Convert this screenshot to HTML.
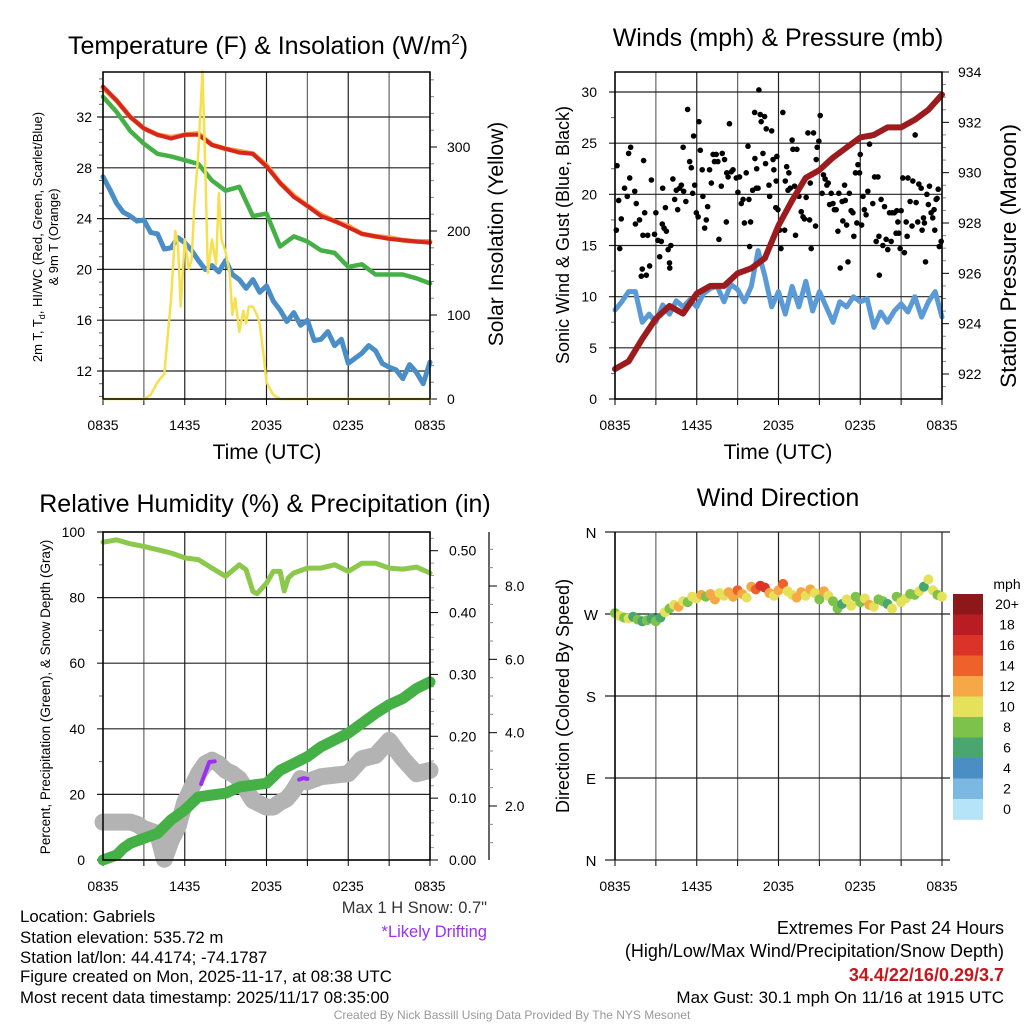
<!DOCTYPE html>
<html><head><meta charset="utf-8"><style>
html,body{margin:0;padding:0;background:#fff;}
svg{display:block;font-family:"Liberation Sans",sans-serif;}
</style></head><body>
<svg id="fig" width="1024" height="1024" viewBox="0 0 1024 1024"></svg>
<script>
// ---------- DATA ----------
const hourTicks = ["0835","1435","2035","0235","0835"];
// Panel 1 (hourly, t = 0..24)
const tempRed   = [34.4,33.3,32.0,31.1,30.6,30.3,30.6,30.6,29.8,29.5,29.2,29.1,28.1,26.8,25.7,25.0,24.2,23.8,23.3,22.8,22.6,22.4,22.3,22.2,22.1];
const tempOrange= [34.3,33.3,32.0,31.1,30.6,30.4,30.6,30.7,29.8,29.5,29.3,29.1,28.2,26.8,25.8,25.0,24.3,23.8,23.4,22.8,22.6,22.5,22.3,22.2,22.2];
const tempGreen = [33.6,32.4,30.9,29.9,29.1,28.9,28.6,28.3,27.0,26.2,26.5,24.2,24.4,21.8,22.6,22.2,21.5,21.3,20.2,20.4,19.6,19.6,19.6,19.3,18.9];
// half-hourly t = 0..24
const tempBlue  = [27.3,26.3,25.2,24.5,24.2,23.8,23.9,22.9,22.8,21.6,21.7,22.5,22.1,21.5,20.7,20.0,20.3,19.8,20.7,19.6,19.2,18.5,19.2,18.2,18.7,17.5,16.8,15.9,16.6,15.6,16.0,14.4,14.5,15.1,14.0,14.5,12.6,13.0,13.4,14.0,13.6,12.6,12.3,12.1,11.4,12.5,11.9,11.0,12.7];
const solarTimes  = [0,3,3.5,4,4.5,5,5.3,5.5,5.7,6,6.3,6.5,6.7,7,7.3,7.5,7.7,8,8.3,8.5,8.7,9,9.3,9.5,9.7,10,10.3,10.5,10.7,11,11.3,11.5,11.8,12,12.5,13,24];
const solarValues = [0,0,5,20,30,120,200,185,110,190,155,165,230,295,390,280,150,190,160,245,190,175,150,100,120,80,105,90,110,110,100,90,50,20,5,0,0];
// Panel 2
const windBlue = [8.7,9.5,10.5,10.5,7.5,8.3,7.5,9.2,8.3,9.6,9.0,9.7,9.0,10.3,10.8,11.0,9.5,11.2,10.7,9.5,11.0,14.5,12.0,9.0,10.5,8.3,11.0,9.0,11.5,8.6,10.5,9.0,7.5,9.5,9.0,10.0,9.5,9.8,7.0,8.5,7.5,8.6,9.3,8.5,10.0,8.0,9.5,10.5,8.0];
const pressure = [922.2,922.5,923.4,924.2,924.7,924.4,925.2,925.5,925.5,926.0,926.2,926.6,927.9,928.9,929.8,930.1,930.6,931.0,931.4,931.5,931.8,931.8,932.1,932.5,933.1];
const gustTimes = [0.1,0.15,0.35,0.46,0.27,0.7,1.0,1.15,1.08,0.9,1.45,1.56,1.5,1.8,2.0,2.1,1.93,2.18,2.3,2.05,2.4,2.54,2.67,2.9,3.0,3.15,3.28,3.4,3.5,3.47,3.6,3.77,3.7,3.9,4.0,4.1,4.02,4.25,4.38,4.5,4.6,4.74,4.87,5.0,5.04,5.2,5.33,5.48,5.6,5.7,5.77,5.85,5.97,6.1,6.16,6.26,6.4,6.45,6.58,6.7,6.8,6.94,7.07,7.2,7.3,7.43,7.55,7.63,7.8,7.87,8.04,8.17,8.4,8.2,8.3,8.53,8.66,8.9,9.02,9.14,9.27,9.4,9.5,9.63,9.76,9.83,9.88,9.95,10.1,10.25,10.27,10.37,10.4,10.5,10.56,10.66,10.73,10.86,10.98,11.05,11.1,11.3,11.35,11.5,11.6,11.66,11.8,11.83,11.88,11.96,12.08,12.18,12.32,12.45,12.5,12.6,12.7,12.76,12.86,13.0,13.06,13.18,13.25,13.35,13.5,13.67,13.8,13.9,14.03,14.16,14.28,14.33,14.4,14.57,14.72,14.77,14.84,14.96,15.06,15.2,15.3,15.42,15.55,15.65,15.75,15.87,16.0,16.1,16.23,16.36,16.43,16.53,16.67,16.72,16.85,16.9,17.0,17.1,17.2,17.33,17.46,17.53,17.65,17.75,17.83,17.95,18.0,18.1,18.2,18.3,18.43,18.56,18.68,18.75,18.92,19.05,19.17,19.3,19.37,19.4,19.53,19.66,19.78,19.9,20.02,20.15,20.27,20.34,20.5,20.63,20.68,20.76,20.83,20.93,21.0,21.12,21.24,21.37,21.44,21.5,21.66,21.8,21.86,22.03,22.1,22.22,22.3,22.47,22.54,22.64,22.71,22.79,22.89,23.0,23.08,23.2,23.32,23.42,23.47,23.57,23.64,23.72,23.8,23.94];
const gustValues = [16.5,22.8,14.7,17.6,19.4,20.6,24.0,24.6,21.6,19.8,20.3,19.1,17.1,17.5,12.7,23.3,12.0,18.2,12.1,16.0,16.0,13.0,21.4,16.1,18.2,15.5,13.9,15.4,20.6,17.1,16.7,16.4,18.7,14.6,13.3,15.0,12.8,21.5,19.5,20.4,18.5,20.6,20.9,24.6,20.3,19.3,28.3,23.2,22.6,20.1,25.7,20.9,18.2,17.8,27.1,24.3,22.4,19.8,16.7,17.5,18.8,22.4,21.1,23.9,23.2,23.9,23.2,15.6,20.8,24.0,23.4,17.3,26.9,22.1,21.7,22.2,22.4,21.6,20.2,21.7,19.1,19.5,17.2,22.1,24.7,19.5,14.9,17.3,20.4,28.0,23.5,20.6,22.5,20.6,30.2,27.8,27.1,24.0,27.6,23.0,26.4,20.9,19.8,26.2,23.4,22.4,18.7,21.3,23.7,18.5,16.5,14.7,28.0,16.5,21.3,22.7,20.4,22.1,20.6,25.3,24.4,20.8,16.0,24.4,19.8,18.3,17.8,17.6,19.7,26.0,17.5,21.1,14.7,26.0,16.9,23.4,24.6,25.2,27.7,20.1,21.9,21.5,20.9,21.1,19.0,20.1,19.1,18.5,18.5,16.4,20.1,12.8,19.3,17.4,20.9,19.4,17.0,13.4,20.1,18.4,18.2,15.9,22.1,17.2,22.9,22.1,23.9,17.0,19.8,18.5,18.0,20.3,24.9,25.7,19.1,21.7,15.4,21.7,15.9,12.1,19.5,15.0,18.8,15.6,14.6,18.2,15.4,18.2,18.2,16.2,18.4,17.3,16.2,14.7,18.4,21.6,14.3,17.3,15.9,21.6,19.3,16.9,21.3,25.8,19.2,17.3,21.0,20.6,16.5,17.7,17.2,13.4,20.0,19.0,20.8,18.2,17.7,18.5,16.5,19.5,19.6,20.5,14.9,15.4];
// Panel 3
const rhTimes  = [0,1,2,3,4,5,6,7,8,9,10,10.5,11,11.3,12,12.5,13,13.3,13.6,14,15,16,17,18,19,20,21,22,23,24];
const rhValues = [96.9,97.6,96.4,95.6,94.6,93.6,92.1,91.6,89.0,86.5,90.0,88.5,81.9,81.2,84.4,88.0,88.0,82.0,86.0,87.5,89.0,89.0,90.0,88.0,90.5,90.5,89.0,88.7,89.3,87.5];
const precipTimes  = [0,1,1.5,2,3,4,5,6,7,8,9,10,11,12,13,14,15,16,17,18,19,20,21,22,23,24];
const precipValues = [0,0.008,0.019,0.027,0.035,0.043,0.065,0.081,0.102,0.105,0.108,0.118,0.121,0.124,0.145,0.156,0.167,0.183,0.194,0.205,0.221,0.237,0.251,0.261,0.277,0.288];
const snowTimes  = [0,1,2,2.5,3,4,4.5,5,5.5,6,6.5,7,7.5,8,8.5,9,9.5,10,11,12,12.5,13,13.5,14,14.5,15,16,17,18,19,20,21,22,23,24];
const snowValues = [1.56,1.56,1.56,1.5,1.38,1.25,0.55,1.06,1.43,2.1,2.5,2.88,3.15,3.25,3.15,2.97,2.88,2.74,2.15,1.97,1.97,2.1,2.2,2.43,2.75,2.66,2.8,2.84,2.88,3.29,3.38,3.79,3.29,2.88,2.97];
const driftTimesA = [7.2,7.5,7.8,8.2];
const driftValuesA = [2.6,2.9,3.2,3.22];
const driftTimesB = [14.4,14.7,15.0];
const driftValuesB = [2.72,2.76,2.74];
// Panel 4 (every 20 min, t = 0..24)
const dirStep = 1/3;
const dirValues = [271,268,266,265,267,264,262,263,265,262,
 266,272,276,280,278,284,283,289,287,291,
 289,292,286,293,290,294,289,296,292,288,
 300,297,301,299,293,290,296,303,295,291,
 288,294,290,297,293,286,295,290,284,276,
 281,286,279,289,283,287,280,278,286,284,
 281,276,289,283,287,292,291,295,300,308,296,291,289];
const dirSpeeds = [8,10,9,11,7,8,6,8,7,9,
 7,10,9,11,12,10,8,11,10,12,
 9,12,13,10,11,12,13,14,12,10,
 12,15,17,16,13,10,12,14,11,10,
 12,13,11,13,10,8,12,11,9,8,
 7,10,11,8,9,10,12,11,8,9,
 7,10,9,11,10,8,9,10,7,11,10,8,10];
const speedLabels = ["20+","18","16","14","12","10","8","6","4","2","0"];
const speedColors = ["#8e1719","#b91d24","#dc3328","#ef612b","#f6a846","#e6e15b","#7dc24b","#4aa66f","#4a8ec4","#7cb9e2","#b5e3f7"];

// ---------- HELPERS ----------
const NS="http://www.w3.org/2000/svg";
const svg=document.getElementById('fig');
function mk(tag,attrs,parent){const e=document.createElementNS(NS,tag);for(const k in attrs)e.setAttribute(k,attrs[k]);(parent||svg).appendChild(e);return e;}
function txt(s,x,y,size,anchor,parent,extra){const e=mk('text',Object.assign({x:x,y:y,'font-size':size,'text-anchor':anchor||'middle',fill:'#000'},extra||{}),parent);e.textContent=s;return e;}
function lin(d0,d1,r0,r1){return v=>r0+(v-d0)/(d1-d0)*(r1-r0);}
function poly(xs,ys,fx,fy,color,w,parent){const pts=xs.map((t,i)=>fx(t).toFixed(1)+','+fy(ys[i]).toFixed(1)).join(' ');return mk('polyline',{points:pts,fill:'none',stroke:color,'stroke-width':w,'stroke-linejoin':'round','stroke-linecap':'round'},parent);}
function idx(n,step){return Array.from({length:n},(_,i)=>i*step);}

function frame(x0,x1,y0,y1,g){
  for(let h=0;h<=24;h+=3){const x=x0+h/24*(x1-x0);
    mk('line',{x1:x,y1:y0,x2:x,y2:y1,stroke:(h%6===0)?'#222':'#666','stroke-width':1.2},g);
    mk('line',{x1:x,y1:y1,x2:x,y2:y1+6,stroke:'#000','stroke-width':1},g);}
  hourTicks.forEach((s,i)=>{const x=x0+i*6/24*(x1-x0);txt(s,x,y1+31,14,'middle',g);});
}
function border(x0,x1,y0,y1,g){mk('rect',{x:x0,y:y0,width:x1-x0,height:y1-y0,fill:'none',stroke:'#000','stroke-width':1.5},g);}

// ---------- PANEL 1 ----------
(function(){
const g=mk('g',{});  
const X0=103,X1=430,Y0=72,Y1=399;
const fx=lin(0,24,X0,X1), fy=lin(12,32,371,117), fs=lin(0,300,399,147);
frame(X0,X1,Y0,Y1,g);
[12,16,20,24,28,32].forEach(v=>{const y=fy(v);mk('line',{x1:X0-6,y1:y,x2:X1,y2:y,stroke:'#222','stroke-width':1.2},g);txt(String(v),92,y+5,14,'end',g);});
for(let v=10;v<=35;v++){if(v%4){const y=fy(v);mk('line',{x1:X0-4,y1:y,x2:X0,y2:y,stroke:'#666'},g);}}
[0,100,200,300].forEach(v=>{const y=fs(v);mk('line',{x1:X1,y1:y,x2:X1+7,y2:y,stroke:'#000'},g);txt(String(v),447,y+5,14,'start',g);});
for(let v=20;v<=380;v+=20){if(v%100){const y=fs(v);mk('line',{x1:X1,y1:y,x2:X1+4,y2:y,stroke:'#888'},g);}}
poly(idx(49,0.5),tempBlue,fx,fy,'#4a8ec8',5,g);
poly(idx(25,1),tempGreen,fx,fy,'#45b045',4.5,g);
poly(idx(25,1),tempOrange,fx,fy,'#f3a040',5,g);
poly(idx(25,1),tempRed,fx,fy,'#d8261f',4,g);
poly(solarTimes,solarValues,fx,fs,'#f5e050',2.5,g);
border(X0,X1,Y0,Y1,g);
const t=txt('',268,54,25,'middle',g); t.innerHTML='Temperature (F) &amp; Insolation (W/m<tspan dy="-10" font-size="15">2</tspan><tspan dy="10">)</tspan>'; 
txt('Time (UTC)',267,459,21,'middle',g);
const yl=mk('text',{transform:'translate(42,237) rotate(-90)','font-size':13,'text-anchor':'middle'},g);
yl.innerHTML='2m T, T<tspan font-size="9" dy="3">d</tspan><tspan dy="-3">, HI/WC (Red, Green, Scarlet/Blue)</tspan>';

txt('& 9m T (Orange)',0,0,13,'middle',g,{transform:'translate(58,237) rotate(-90)'});
txt('Solar Insolation (Yellow)',0,0,21,'middle',g,{transform:'translate(503,234) rotate(-90)'});
})();

// ---------- PANEL 2 ----------
(function(){
const g=mk('g',{});  
const X0=615,X1=942,Y0=72,Y1=399;
const fx=lin(0,24,X0,X1), fy=lin(0,30,399,92), fp=lin(922,934,374,72);
frame(X0,X1,Y0,Y1,g);
[0,5,10,15,20,25,30].forEach(v=>{const y=fy(v);mk('line',{x1:X0-6,y1:y,x2:X1,y2:y,stroke:'#222','stroke-width':1.2},g);txt(String(v),597,y+5,14,'end',g);});
for(let v=2.5;v<32;v+=5){const y=fy(v);mk('line',{x1:X0-4,y1:y,x2:X0,y2:y,stroke:'#666'},g);}
[922,924,926,928,930,932,934].forEach(v=>{const y=fp(v);mk('line',{x1:X1,y1:y,x2:X1+7,y2:y,stroke:'#000'},g);txt(String(v),958,y+5,14,'start',g);});
for(let v=921.5;v<934;v+=0.5){if(v%2){const y=fp(v);mk('line',{x1:X1,y1:y,x2:X1+4,y2:y,stroke:'#888'},g);}}
poly(idx(49,0.5),windBlue,fx,fy,'#5a9ad6',5,g);
gustTimes.forEach((t,i)=>{const c=mk('circle',{cx:fx(t),cy:fy(gustValues[i]),r:2.8,fill:'#000'},g);

});
poly(idx(25,1),pressure,fx,fp,'#9b1b1e',6,g);
border(X0,X1,Y0,Y1,g);
txt('Winds (mph) & Pressure (mb)',778,46,25,'middle',g);
txt('Time (UTC)',778,459,21,'middle',g);
txt('Sonic Wind & Gust (Blue, Black)',0,0,18,'middle',g,{transform:'translate(569,235) rotate(-90)'});
txt('Station Pressure (Maroon)',0,0,22.5,'middle',g,{transform:'translate(1016,256) rotate(-90)'});
})();

// ---------- PANEL 3 ----------
(function(){
const g=mk('g',{});  
const X0=103,X1=430,Y0=532,Y1=860;
const fx=lin(0,24,X0,X1), fy=lin(0,100,860,532), fpr=lin(0,0.5,860,550.7), fsn=lin(2,8,806,586);
frame(X0,X1,Y0,Y1,g);
[0,20,40,60,80,100].forEach(v=>{const y=fy(v);mk('line',{x1:X0-6,y1:y,x2:X1,y2:y,stroke:'#222','stroke-width':1.2},g);txt(String(v),85,y+5,14,'end',g);});
for(let v=10;v<100;v+=20){const y=fy(v);mk('line',{x1:X0-4,y1:y,x2:X0,y2:y,stroke:'#666'},g);}
for(let k=0;k<=26;k++){const v=k*0.02,y=fpr(v);if(y<Y0)break;const maj=k%5===0;mk('line',{x1:X1,y1:y,x2:X1+(maj?8:4),y2:y,stroke:maj?'#000':'#999'},g);if(maj)txt(v.toFixed(2),449,y+5,14,'start',g);}
mk('line',{x1:489,y1:Y0,x2:489,y2:Y1,stroke:'#000','stroke-width':1.2},g);
for(let v=1;v<=9;v+=0.5){const y=fsn(v);if(y>Y1||y<Y0)continue;const maj=(v%2===0);mk('line',{x1:489,y1:y,x2:489+(maj?8:4),y2:y,stroke:maj?'#000':'#888'},g);if(maj)txt(v.toFixed(1),505,y+5,14,'start',g);}
poly(snowTimes,snowValues,fx,fsn,'#b3b3b3',17,g);
poly(driftTimesA,driftValuesA,fx,fsn,'#9b30f0',4,g);
poly(driftTimesB,driftValuesB,fx,fsn,'#9b30f0',4,g);
poly(precipTimes,precipValues,fx,fpr,'#45b045',11,g);
poly(rhTimes,rhValues,fx,fy,'#8cc84b',5,g);
border(X0,X1,Y0,Y1,g);
txt('Relative Humidity (%) & Precipitation (in)',265,512,25,'middle',g);
txt('Percent, Precipitation (Green), & Snow Depth (Gray)',0,0,13.5,'middle',g,{transform:'translate(50,697) rotate(-90)'});
})();

// ---------- PANEL 4 ----------
(function(){
const g=mk('g',{});  
const X0=615,X1=942,Y0=532,Y1=860;
const fx=lin(0,24,X0,X1), fy=lin(0,360,860,532);
frame(X0,X1,Y0,Y1,g);
[['N',0],['E',90],['S',180],['W',270],['N',360]].forEach(([l,v])=>{const y=fy(v);mk('line',{x1:X0-10,y1:y,x2:X1+8,y2:y,stroke:'#222','stroke-width':1.2},g);txt(l,591,y+6,15,'middle',g);});
const bin=s=>Math.min(10,Math.floor(s/2));
dirValues.forEach((d,i)=>{const c=mk('circle',{cx:fx(i*dirStep),cy:fy(d),r:5,fill:speedColors[10-bin(dirSpeeds[i])]},g);

});
mk('line',{x1:X0,y1:Y0,x2:X0,y2:Y1,stroke:'#000','stroke-width':1.5},g);
txt('Wind Direction',778,506,25,'middle',g);
txt('Direction (Colored By Speed)',0,0,18,'middle',g,{transform:'translate(569,696) rotate(-90)'});
const lg=mk('g',{},g);  
txt('mph',1007,589,14,'middle',lg);
speedLabels.forEach((l,i)=>{const y=594+i*20.5;mk('rect',{x:953,y:y,width:30,height:20.8,fill:speedColors[i]},lg);txt(l,1007,y+15,14,'middle',lg);});
})();

// ---------- FOOTER ----------
(function(){
const g=mk('g',{});  
const L=[['Location: Gabriels',922],['Station elevation: 535.72 m',943],['Station lat/lon: 44.4174; -74.1787',963],['Figure created on Mon, 2025-11-17, at 08:38 UTC',982],['Most recent data timestamp: 2025/11/17 08:35:00',1003]];
L.forEach(([s,y])=>txt(s,20,y,16.8,'start',g));
txt('Max 1 H Snow: 0.7"',487,913,16.5,'end',g,{fill:'#333'});
txt('*Likely Drifting',487,937,16.5,'end',g,{fill:'#9b30f0'});
txt('Extremes For Past 24 Hours',1004,934,18,'end',g);
txt('(High/Low/Max Wind/Precipitation/Snow Depth)',1004,957,18,'end',g);
txt('34.4/22/16/0.29/3.7',1004,981,18,'end',g,{fill:'#c8161d','font-weight':'bold'});
txt('Max Gust: 30.1 mph On 11/16 at 1915 UTC',1004,1003,17,'end',g);
txt('Created By Nick Bassill Using Data Provided By The NYS Mesonet',512,1019,12,'middle',g,{fill:'#999'});
})();
</script>
</body></html>
